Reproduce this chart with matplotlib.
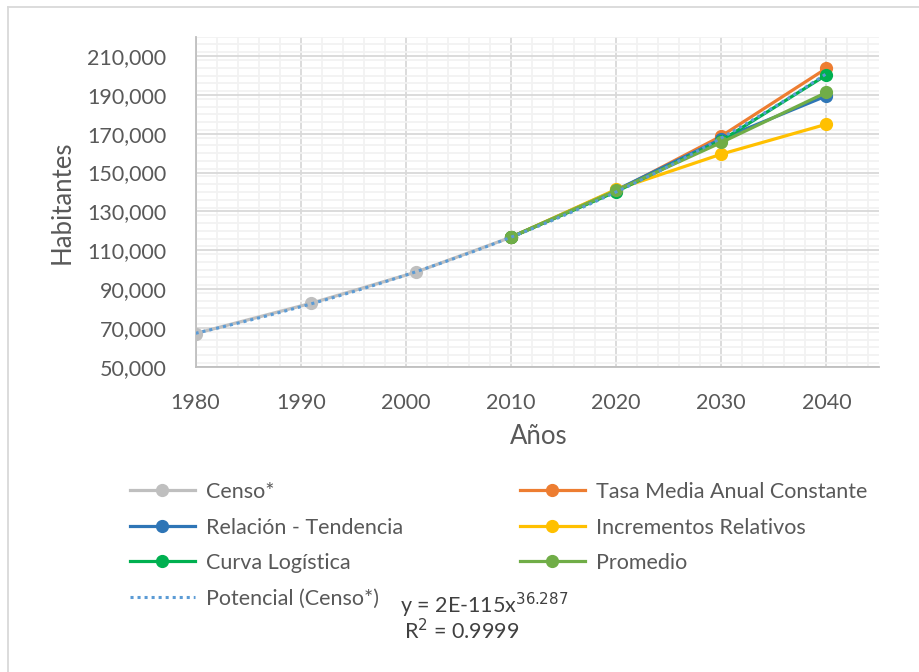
import numpy as np
import matplotlib
matplotlib.use("Agg")
import matplotlib.pyplot as plt
from matplotlib.ticker import MultipleLocator, FuncFormatter
from matplotlib.lines import Line2D

# census data
census_years = [1980, 1991, 2001, 2010]
census_pop = [67100, 82700, 98800, 116700]

# projections
proj_years = [2010, 2020, 2030, 2040]
tasa = [116700, 140500, 168800, 203700]
relacion = [116700, 141000, 167300, 189500]
incrementos = [116700, 141300, 159500, 174900]
logistica = [116700, 140200, 166500, 200300]
promedio = [116700, 140800, 165500, 191300]

labels = ["Censo*", "Tasa Media Anual Constante", "Relación - Tendencia",
          "Incrementos Relativos", "Curva Logística", "Promedio",
          "Potencial (Censo*)"]
colors = ["#BFBFBF", "#ED7D31", "#2E75B6", "#FFC000", "#00B050", "#70AD47"]
trend_color = "#5B9BD5"
txt_color = "#595959"

plt.rcParams['font.family'] = ['Lato', 'DejaVu Sans']
fs = 15.5

fig = plt.figure(figsize=(9.2, 6.72), dpi=100)
ax = fig.add_axes([195.6 / 920, 1 - 366.7 / 672, (879 - 195.6) / 920, (366.7 - 36.7) / 672])

lw = 2.3
ms = 8.5
series = [tasa, relacion, incrementos, logistica, promedio]
ax.plot(census_years, census_pop, color=colors[0], lw=lw, marker='o', ms=ms, zorder=3)
for vals, c in zip(series, colors[1:]):
    ax.plot(proj_years, vals, color=c, lw=lw, marker='o', ms=ms, zorder=3)

# power trendline fitted to census (as excel does)
b, a = np.polyfit(np.log(census_years), np.log(census_pop), 1)
tx = np.linspace(1980, 2040, 200)
ax.plot(tx, np.exp(a) * tx ** b, color=trend_color, lw=2.2, ls=(0, (1, 1.3)), zorder=4)

ax.set_xlim(1980, 2045)
ax.set_ylim(50000, 220000)
ax.set_xticks(range(1980, 2041, 10))
ax.set_yticks(range(50000, 210001, 20000))
ax.xaxis.set_minor_locator(MultipleLocator(2))
ax.yaxis.set_minor_locator(MultipleLocator(4000))
ax.yaxis.set_major_formatter(FuncFormatter(lambda v, p: f"{v:,.0f}"))
ax.grid(which='major', color='#D9D9D9', lw=1.3, zorder=0)
ax.grid(which='minor', color='#F2F2F2', lw=1.3, zorder=0)
ax.set_axisbelow(True)
ax.tick_params(axis='both', which='both', length=0, labelsize=fs, labelcolor=txt_color)
ax.tick_params(axis='x', pad=19)
ax.tick_params(axis='y', pad=21)
for s in ['top', 'right']:
    ax.spines[s].set_visible(False)
for s in ['left', 'bottom']:
    ax.spines[s].set_color('#BFBFBF')
    ax.spines[s].set_linewidth(1.3)

fig.text(62 / 920, 1 - 202 / 672, "Habitantes", rotation=90, ha='center', va='center',
         fontsize=18.5, color=txt_color)
fig.text(539 / 920, 1 - 437 / 672, "Años", ha='center', va='center', fontsize=18.5, color=txt_color)

# legend, two columns
def h(c):
    return Line2D([], [], color=c, lw=lw, marker='o', ms=ms)

trend_h = Line2D([], [], color=trend_color, lw=2.2, ls=(0, (1, 1.3)))
leg_kw = dict(frameon=False, fontsize=fs, handlelength=3.0, handletextpad=0.55,
              labelspacing=0.72, borderpad=0, borderaxespad=0, loc='upper left')
leg1 = fig.legend([h(colors[0]), h(colors[2]), h(colors[4]), trend_h],
                  [labels[0], labels[2], labels[4], labels[6]],
                  bbox_to_anchor=(130 / 920, 1 - 482 / 672), **leg_kw)
leg2 = fig.legend([h(colors[1]), h(colors[3]), h(colors[5])],
                  [labels[1], labels[3], labels[5]],
                  bbox_to_anchor=(520 / 920, 1 - 482 / 672), **leg_kw)
for lg in (leg1, leg2):
    for t in lg.get_texts():
        t.set_color(txt_color)

fig.text(400 / 920, 1 - 605 / 672, r"y = 2E-115x$^{36.287}$", ha='left', va='center',
         fontsize=fs, color='#404040')
fig.text(462 / 920, 1 - 631 / 672, r"R$^{2}$ = 0.9999", ha='center', va='center',
         fontsize=fs, color='#404040')

# chart border (top/left)
fig.add_artist(Line2D([8 / 920, 8 / 920], [0, 1 - 7 / 672], color='#D9D9D9', lw=1.3))
fig.add_artist(Line2D([8 / 920, 1], [1 - 7 / 672, 1 - 7 / 672], color='#D9D9D9', lw=1.3))

fig.savefig("out.png", dpi=100, facecolor='white')
